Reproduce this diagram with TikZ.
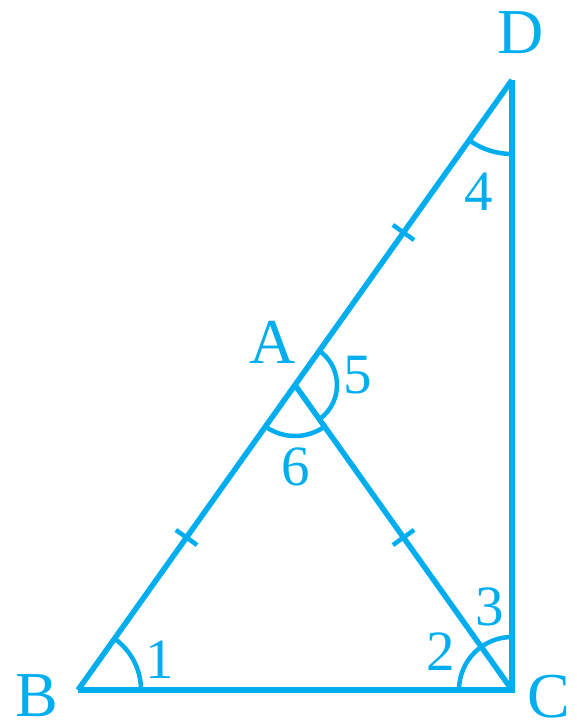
\documentclass[tikz,border=0pt]{standalone}
\usepackage{fontspec}
\setmainfont{Liberation Serif}
\usetikzlibrary{calc, angles, decorations.markings}
\definecolor{figblue}{RGB}{0,174,239}

\tikzset{
  side/.style={figblue, line width=5.5pt},
  anglearc/.style={draw=figblue, line width=4.5pt},
  halfmark/.style={postaction={decorate, decoration={markings,
      mark=at position 0.5 with {\draw[figblue, line width=4.5pt] (0,-13pt) -- (0,13pt);}}}},
  vlabel/.style={text=figblue, font=\fontsize{64}{64}\selectfont, inner sep=0pt},
  nlabel/.style={text=figblue, font=\fontsize{57}{57}\selectfont, inner sep=0pt}
}

\begin{document}
\begin{tikzpicture}[x=1pt,y=1pt]
\useasboundingbox (0,0) rectangle (576,726);
\coordinate (B) at (78,36);
\coordinate (C) at (512,36);
\coordinate (D) at (512,646);
\coordinate (A) at ($(B)!0.5!(D)$);

% sides
\draw[side, line join=miter] (B) -- (C) -- (D);
\draw[side, halfmark] (B) -- (A);
\draw[side, halfmark] (A) -- (D);
\draw[side, halfmark] (A) -- (C);

% angle marks
\pic[anglearc, angle radius=63pt] {angle = C--B--A};
\pic[anglearc, angle radius=53pt] {angle = D--C--B};
\pic[anglearc, angle radius=74pt] {angle = B--D--C};
\pic[anglearc, angle radius=42pt] {angle = C--A--D};
\pic[anglearc, angle radius=51pt] {angle = B--A--C};

% vertex names
\node[vlabel] (labD) at (521,693) {D};
\node[vlabel] (labA) at (273,384) {A};
\node[vlabel] (labB) at (37,30) {B};
\node[vlabel] (labC) at (549,29) {C};

% angle numbers
\node[nlabel] (ang1) at (160,66) {1};
\node[nlabel] (ang2) at (441,74) {2};
\node[nlabel] (ang3) at (490,119) {3};
\node[nlabel] (ang4) at (479,534) {4};
\node[nlabel] (ang5) at (358,351) {5};
\node[nlabel] (ang6) at (296,259) {6};
\end{tikzpicture}
\end{document}
